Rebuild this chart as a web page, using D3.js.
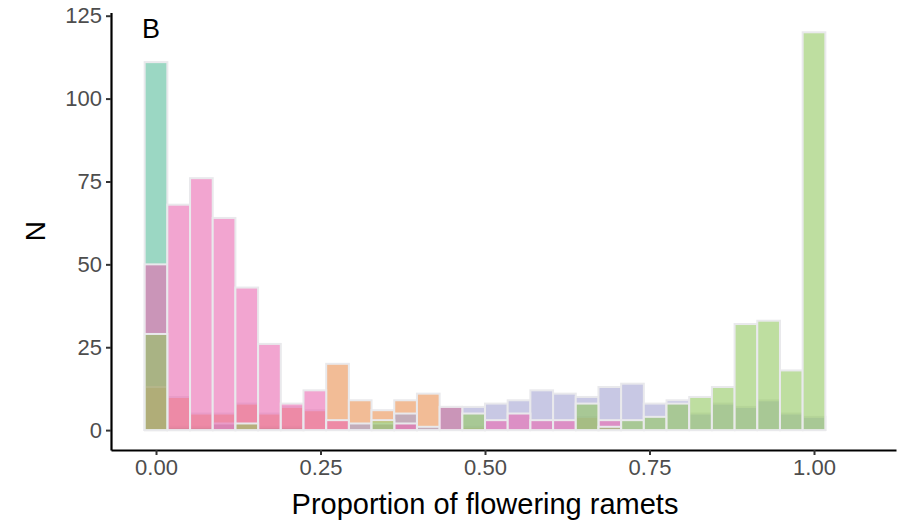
<!DOCTYPE html>
<html>
<head>
<meta charset="utf-8">
<script src="https://cdn.jsdelivr.net/npm/d3@7"></script>
<style>
  body { margin: 0; background: #fff; }
  svg { display: block; font-family: "Liberation Sans", Arial, sans-serif; }
</style>
</head>
<body>
<svg id="chart" width="918" height="526"></svg>
<script>
// bins: 30 bins centred on k/29
const binWidth = 1 / 29;

// counts per bin, one array per group (drawn in this order)
const teal   = [111, 1, 1, 0, 0, 1, 1, 0, 0, 0, 0, 0, 0, 7, 0, 0, 0, 0, 0, 0, 0, 0, 0, 0, 0, 0, 0, 0, 0, 0];
const orange = [13, 10, 5, 5, 8, 5, 7, 6, 20, 9, 6, 9, 11, 0, 1, 0, 0, 0, 0, 4, 0, 0, 0, 0, 0, 0, 0, 0, 0, 0];
const purple = [0, 0, 0, 2, 0, 0, 0, 0, 0, 2, 2, 5, 1, 0, 7, 8, 9, 12, 11, 10, 13, 14, 8, 9, 5, 8, 7, 9, 5, 4];
const pink   = [50, 68, 76, 64, 43, 26, 8, 12, 3, 0, 0, 2, 0, 7, 0, 3, 5, 3, 3, 0, 3, 0, 0, 0, 0, 0, 0, 0, 0, 0];
const green  = [29, 0, 0, 0, 2, 0, 0, 0, 0, 0, 3, 0, 0, 0, 5, 0, 0, 0, 0, 8, 1, 3, 4, 8, 10, 13, 32, 33, 18, 120];

const groups = [
  { name: "teal", values: teal, color: "#58bc9b" },
  { name: "orange", values: orange, color: "#e98f50" },
  { name: "purple", values: purple, color: "#a3a3d2" },
  { name: "pink", values: pink, color: "#e969b1" },
  { name: "green", values: green, color: "#93c861" },
];

const xTicks = [0, 0.25, 0.5, 0.75, 1];
const yTicks = [0, 25, 50, 75, 100, 125];

const svg = d3.select("#chart");

const x = d3.scaleLinear().domain([-0.0684, 1.1246]).range([111, 896]);
const y = d3.scaleLinear().domain([-6, 126]).range([450, 12.4]);

// bars
groups.forEach((g) => {
  svg.append("g")
    .attr("class", "bars " + g.name)
    .selectAll("rect")
    .data(g.values.map((v, k) => ({ k, v })).filter((d) => d.v > 0))
    .enter()
    .append("rect")
    .attr("x", (d) => x(d.k * binWidth - binWidth / 2))
    .attr("width", (d) => x(d.k * binWidth + binWidth / 2) - x(d.k * binWidth - binWidth / 2))
    .attr("y", (d) => y(d.v))
    .attr("height", (d) => y(0) - y(d.v))
    .style("fill", g.color)
    .style("fill-opacity", 0.6)
    .style("stroke", "#e9e9ec")
    .style("stroke-width", 2);
});

// axes
const xAxis = svg.append("g")
  .attr("transform", `translate(0,${y.range()[0]})`)
  .call(d3.axisBottom(x).tickValues(xTicks).tickFormat(d3.format(".2f")).tickSize(5).tickSizeOuter(0).tickPadding(4));

const yAxis = svg.append("g")
  .attr("transform", `translate(${x.range()[0]},0)`)
  .call(d3.axisLeft(y).tickValues(yTicks).tickSize(5).tickSizeOuter(0).tickPadding(4));

[xAxis, yAxis].forEach((ax) => {
  ax.select(".domain").attr("stroke", "#000").attr("stroke-width", 2.2);
  ax.selectAll(".tick line").attr("stroke", "#333").attr("stroke-width", 2);
  ax.selectAll(".tick text")
    .attr("fill", "#4d4d4d")
    .style("font-size", "22px")
    .style("font-family", "'Liberation Sans', Arial, sans-serif");
});

// titles
svg.append("text")
  .attr("x", 485)
  .attr("y", 514)
  .attr("text-anchor", "middle")
  .style("font-size", "29px")
  .text("Proportion of flowering ramets");

svg.append("text")
  .attr("transform", `translate(45,${(y.range()[0] + y.range()[1]) / 2}) rotate(-90)`)
  .attr("text-anchor", "middle")
  .style("font-size", "28px")
  .text("N");

svg.append("text")
  .attr("x", 142)
  .attr("y", 38)
  .style("font-size", "27px")
  .text("B");
</script>
</body>
</html>
